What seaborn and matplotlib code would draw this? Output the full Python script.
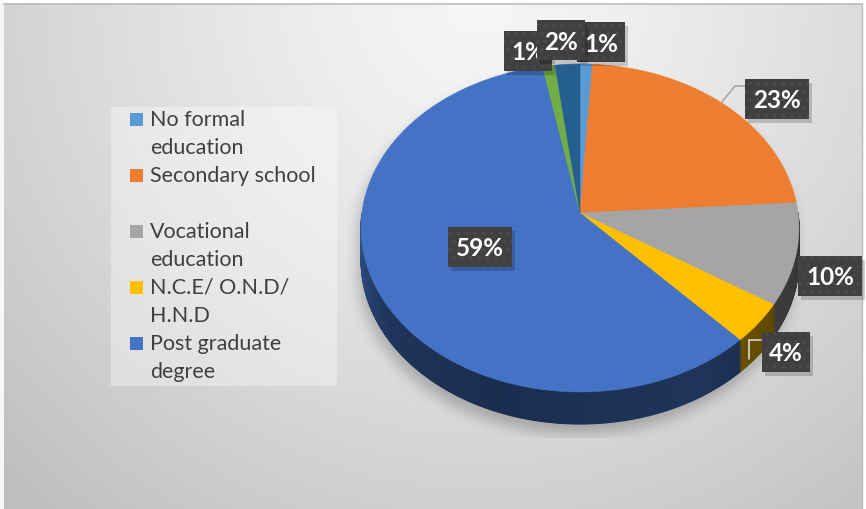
import numpy as np
import matplotlib
matplotlib.use("Agg")
import matplotlib.pyplot as plt
import seaborn as sns
from matplotlib.patches import Rectangle, Polygon
from matplotlib.collections import PolyCollection
from matplotlib.path import Path

# ---- data -------------------------------------------------------------
values = [1, 23, 10, 4, 59, 1, 2]          # percent share of each slice
slice_colors = ["#5B9BD5", "#ED7D31", "#A5A5A5", "#FFC000",
                "#4472C4", "#70AD47", "#255E91"]
legend_labels = ["No formal\neducation", "Secondary school\n",
                 "Vocational\neducation", "N.C.E/ O.N.D/\nH.N.D",
                 "Post graduate\ndegree"]
value_labels = [f"{v}%" for v in values]

# ---- layout (pixels, y downwards) --------------------------------------
W, H = 866, 510
CX, CY = 580, 214           # projected pie centre
RX, RB = 218, 162.6         # horizontal radius, vertical scale
K = 0.0914                  # perspective strength
DEPTH = 32
label_pos = [(601, 43), (777, 100), (830, 277), (786, 353),
             (480, 248), (528, 52), (561, 41)]
label_order = [5, 0, 6, 1, 2, 3, 4]   # drawing order of the value boxes

sns.set_theme(style="white")
plt.rcParams["font.family"] = ["Lato", "DejaVu Sans"]

fig = plt.figure(figsize=(W / 100, H / 100), dpi=100)
ax = fig.add_axes([0, 0, 1, 1])
ax.set_xlim(0, W)
ax.set_ylim(H, 0)
ax.axis("off")


def proj(u, v):
    """Project a point of the unit disc (v up = far side) to pixels."""
    w = 1 + K * v
    return CX + RX * u / w, CY - RB * v / w


# ---- background with radial gradient and soft shadow under the pie ----
yy, xx = np.mgrid[0:H, 0:W]
d = np.hypot(xx - 480, yy - 0) / 560
bg = 0.965 - 0.17 * np.clip(d, 0, 1.2) ** 1.3

phi = np.linspace(0, 2 * np.pi, 400)
px, py = proj(np.cos(phi), np.sin(phi))
top_path = Path(np.column_stack([px, py]))
bot_path = Path(np.column_stack([px, py + DEPTH]))
pts = np.column_stack([xx.ravel() + 4, yy.ravel() - 9])
mask = (top_path.contains_points(pts) | bot_path.contains_points(pts)).reshape(H, W).astype(float)


def box_blur(a, r, axis):
    pad = [(r + 1, r) if i == axis else (0, 0) for i in range(2)]
    c = np.cumsum(np.pad(a, pad, mode="edge"), axis=axis)
    if axis == 0:
        return (c[2 * r + 1:] - c[:-2 * r - 1]) / (2 * r + 1)
    return (c[:, 2 * r + 1:] - c[:, :-2 * r - 1]) / (2 * r + 1)


for _ in range(3):
    mask = box_blur(mask, 6, 0)
    mask = box_blur(mask, 6, 1)
clip = (xx >= 347) & (xx <= 830) & (yy <= 438)
bg = bg - 0.2 * mask * clip

rgb = np.dstack([bg, bg, bg])
rgb[:4, :, :] = 1.0
rgb[:, :4, :] = 0.97
rgb[:, 863:, :] = 1.0
ax.imshow(rgb, extent=(0, W, H, 0), zorder=0, interpolation="bilinear")
ax.plot([4, 862], [4.5, 4.5], color="#BDBDBD", lw=1.2, zorder=1)
ax.plot([862.5, 862.5], [4, H], color="#BBBBBB", lw=1.0, zorder=1)

# ---- slices -------------------------------------------------------------
fracs = np.array(values, dtype=float) / sum(values)
edges = 90 - 360 * np.concatenate([[0], np.cumsum(fracs)])   # degrees, clockwise


def shade(deg):
    a = np.mod(deg, 360)
    return np.interp(a, [180, 215, 250, 300, 330, 360],
                     [0.70, 0.46, 0.40, 0.46, 0.36, 0.30])


def rim(deg):
    r = np.radians(deg)
    return proj(np.cos(r), np.sin(r))


for i, col in enumerate(slice_colors):
    a1, a2 = edges[i], edges[i + 1]
    angs = np.linspace(a1, a2, max(3, int(abs(a1 - a2) * 2)))
    mids = np.mod((angs[:-1] + angs[1:]) / 2, 360)
    front = (mids >= 180) & (mids <= 360)
    if not front.any():
        continue
    base = np.array(matplotlib.colors.to_rgb(col))
    idx = np.where(front)[0]
    seg = np.concatenate([angs[idx], [angs[idx[-1] + 1]]])
    sx, sy = rim(seg)
    # solid underlay for the whole visible side of this slice
    under = list(zip(sx, sy)) + list(zip(sx[::-1], sy[::-1] + DEPTH))
    ax.add_patch(Polygon(under, closed=True,
                         facecolor=np.clip(base * shade(mids[idx]).mean(), 0, 1),
                         lw=0, zorder=2))
    polys, cols = [], []
    for j in range(len(seg) - 1):
        polys.append([(sx[j], sy[j]), (sx[j + 1], sy[j + 1]),
                      (sx[j + 1], sy[j + 1] + DEPTH), (sx[j], sy[j] + DEPTH)])
        cols.append(np.clip(base * shade((seg[j] + seg[j + 1]) / 2), 0, 1))
    ax.add_collection(PolyCollection(polys, facecolors=cols, edgecolors=cols,
                                     linewidths=0.8, zorder=2.1))

for i, col in enumerate(slice_colors):
    a1, a2 = edges[i], edges[i + 1]
    tx, ty = rim(np.linspace(a1, a2, max(3, int(abs(a1 - a2) * 2))))
    verts = [(CX, CY)] + list(zip(tx, ty))
    ax.add_patch(Polygon(verts, closed=True, facecolor=col, edgecolor=col,
                         lw=0.4, zorder=3))

# leader lines
ax.plot([722, 735, 746], [103, 87, 87], color="#A6A6A6", lw=1.2, zorder=3)
ax.plot([749, 749, 761], [360, 341, 341], color="#D9D9D9", lw=1.2, zorder=3)

# ---- value boxes -------------------------------------------------------
for n, i in enumerate(label_order):
    x, y = label_pos[i]
    txt = value_labels[i]
    bw = 16 * len(txt) + 16
    bh = 40
    z = 4 + n * 0.1
    ax.add_patch(Rectangle((x - bw / 2 + 3, y - bh / 2 + 4), bw, bh,
                           facecolor="black", alpha=0.18, lw=0, zorder=z))
    ax.add_patch(Rectangle((x - bw / 2, y - bh / 2), bw, bh,
                           facecolor="#404040", edgecolor="#4C4C4C",
                           hatch="..", lw=0, zorder=z + 0.01))
    ax.text(x, y + 1, txt, ha="center", va="center", color="white",
            fontsize=17.5, fontweight="bold", zorder=z + 0.02)

# ---- legend ------------------------------------------------------------
ax.add_patch(Rectangle((111, 108), 226, 279, facecolor="white", alpha=0.35,
                       lw=0, zorder=1))
line_h = 28
y0 = 120
row = 0
for lab, col in zip(legend_labels, slice_colors):
    ax.add_patch(Rectangle((130, y0 + row * line_h - 6), 13, 13,
                           facecolor=col, lw=0, zorder=2))
    for part in lab.split("\n"):
        ax.text(150, y0 + row * line_h, part, ha="left", va="center",
                color="#404040", fontsize=15.5, zorder=2)
        row += 1

fig.savefig("out.png", dpi=100)
